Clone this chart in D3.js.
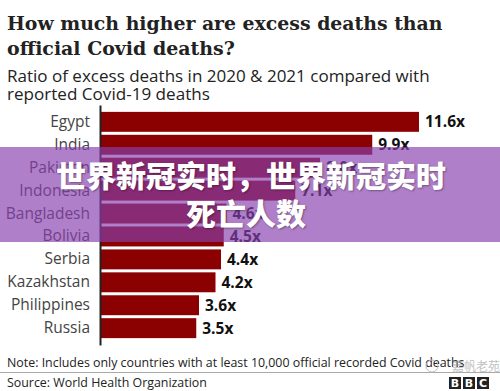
<!DOCTYPE html>
<html><head><meta charset="utf-8">
<script src="https://cdn.jsdelivr.net/npm/d3@7/dist/d3.min.js"></script>
<style>
html,body{margin:0;padding:0;background:#fff;}
svg{display:block;}
</style></head>
<body>
<script>
const countries = ["Egypt","India","Pakistan","Indonesia","Bangladesh","Bolivia","Serbia","Kazakhstan","Philippines","Russia"];
const ratios = [11.6, 9.9, 8.0, 7.1, 4.6, 4.5, 4.4, 4.2, 3.6, 3.5];
const titleLines = ["How much higher are excess deaths than","official Covid deaths?"];
const subtitleLines = ["Ratio of excess deaths in 2020 & 2021 compared with","reported Covid-19 deaths"];
const noteText = "Note: Includes only countries with at least 10,000 official recorded Covid deaths";
const sourceText = "Source: World Health Organization";
const overlayLines = ["世界新冠实时，世界新冠实时","死亡人数"];

const W = 500, H = 391;
const svg = d3.select("body").append("svg").attr("width", W).attr("height", H);

function fit(sel, target){
  const n = sel.node();
  const w = n.getComputedTextLength();
  if (w > 0) {
    const fs = parseFloat(sel.attr("font-size"));
    sel.attr("font-size", (fs * target / w).toFixed(2));
  }
}

// Title
const tY = [30, 55], tW = [436, 228];
titleLines.forEach((t,i)=>{
  const s = svg.append("text").attr("x",7).attr("y",tY[i])
    .attr("font-family","'DejaVu Serif', serif").attr("font-weight","bold")
    .attr("font-size",22).attr("fill","#222").text(t);
  fit(s, tW[i]);
});
const sY = [82, 100], sW = [423, 203];
subtitleLines.forEach((t,i)=>{
  const s = svg.append("text").attr("x",7).attr("y",sY[i])
    .attr("font-family","'Open Sans', sans-serif")
    .attr("font-size",17).attr("fill","#222").text(t);
  fit(s, sW[i]);
});

// Scales
const x = d3.scaleLinear().domain([0, 11.6]).range([100, 419]);
const y = d3.scaleBand().domain(countries).range([105, 345]).paddingInner(0.13).paddingOuter(0.3);

// Bars
svg.append("g").selectAll("rect").data(countries).join("rect")
  .attr("x", x(0)).attr("y", d=>y(d))
  .attr("width", (d,i)=>x(ratios[i]) - x(0))
  .attr("height", y.bandwidth())
  .attr("fill", "#8b0000");

// Value labels
svg.append("g").selectAll("text").data(countries).join("text")
  .attr("x", (d,i)=>x(ratios[i]) + 6)
  .attr("y", d=>y(d) + y.bandwidth()/2)
  .attr("dy","0.36em")
  .attr("font-family","'Open Sans', sans-serif").attr("font-weight","bold")
  .attr("font-size",15.5).attr("fill","#111")
  .text((d,i)=>ratios[i].toFixed(1) + "x");

// Axis
const ax = svg.append("g").attr("transform",`translate(${x(0)},0)`)
  .call(d3.axisLeft(y).tickSize(0).tickSizeOuter(0).tickPadding(10));
ax.select(".domain").attr("stroke","#222").attr("stroke-width",2);
ax.selectAll("text").attr("font-family","'Open Sans', sans-serif")
  .attr("font-size",15.5).attr("fill","#444");

// Footer
const note = svg.append("text").attr("x",7).attr("y",367)
  .attr("font-family","'Open Sans', sans-serif").attr("font-size",13).attr("fill","#222").text(noteText);
fit(note, 458);
svg.append("line").attr("x1",0).attr("x2",W).attr("y1",372.5).attr("y2",372.5)
  .attr("stroke","#aaa").attr("stroke-width",1);
const src = svg.append("text").attr("x",7).attr("y",386.5)
  .attr("font-family","'Open Sans', sans-serif").attr("font-size",13).attr("fill","#222").text(sourceText);
fit(src, 200);

// BBC logo
["B","B","C"].forEach((c,i)=>{
  const bx = 449 + i*14;
  svg.append("rect").attr("x",bx).attr("y",377).attr("width",12).attr("height",12).attr("fill","#222");
  svg.append("text").attr("x",bx+6).attr("y",387).attr("text-anchor","middle")
    .attr("font-family","'DejaVu Sans', sans-serif").attr("font-weight","bold")
    .attr("font-size",11).attr("fill","#fff").text(c);
});
// faint watermark
svg.append("text").attr("x",452).attr("y",371)
  .attr("font-family","'Noto Sans CJK SC'").attr("font-size",12).attr("fill","#999").attr("opacity",0.6).text("嘉帆老苑");
svg.append("circle").attr("cx",432).attr("cy",366).attr("r",6).attr("fill","none").attr("stroke","#bbb").attr("stroke-width",1);

// Overlay banner
svg.append("rect").attr("x",0).attr("y",147).attr("width",W).attr("height",95)
  .attr("fill","rgb(136,63,174)").attr("fill-opacity",0.667);
const oY = [187, 225], oX = [251, 246];
overlayLines.forEach((t,i)=>{
  svg.append("text").attr("x",oX[i]).attr("y",oY[i]).attr("text-anchor","middle")
    .attr("font-family","'Noto Sans CJK SC'").attr("font-weight",900)
    .attr("font-size",30).attr("fill","#fff")
    .style("text-shadow","1px 1px 2px rgba(0,0,0,0.35)")
    .text(t);
});
</script>
</body></html>
